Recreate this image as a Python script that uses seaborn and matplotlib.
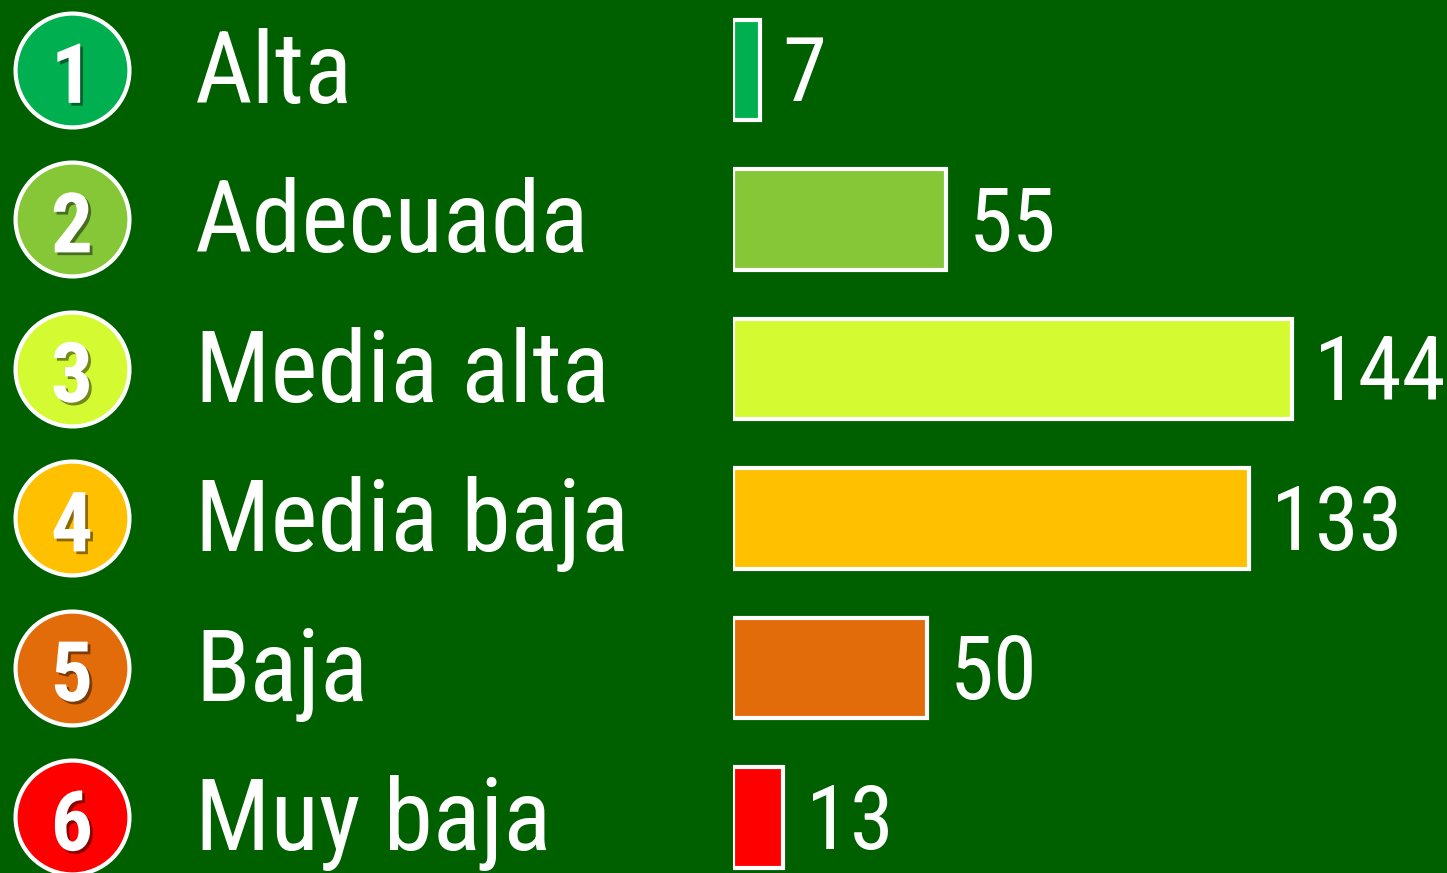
import matplotlib
matplotlib.use("Agg")
import matplotlib.pyplot as plt
import matplotlib.patheffects as pe
import matplotlib.transforms as mtransforms
from matplotlib import font_manager
import seaborn as sns

# Data
ranks = ["1", "2", "3", "4", "5", "6"]
levels = ["Alta", "Adecuada", "Media alta", "Media baja", "Baja", "Muy baja"]
counts = [7, 55, 144, 133, 50, 13]
colors = ["#00B050", "#85C737", "#D4FA32", "#FFC000", "#E36C0A", "#FF0000"]
bg = "#006000"

sns.set_theme(style="white")
# a narrow sans to mimic Arial Narrow
names = {f.name for f in font_manager.fontManager.ttflist}
font = "Liberation Sans"
for cand in ["Liberation Sans Narrow", "Roboto Condensed", "Archivo Narrow", "PT Sans Narrow"]:
    if cand in names:
        font = cand
        break
plt.rcParams["font.family"] = [font, "DejaVu Sans"]

fig = plt.figure(figsize=(14.47, 8.73), dpi=100, facecolor=bg)
ax = fig.add_axes([733 / 1447, -0.02205, 714 / 1447, 1.0275])
ax.set_facecolor(bg)

sns.barplot(x=counts, y=levels, hue=levels, palette=colors, legend=False, saturation=1,
            orient="h", width=0.67, edgecolor="white", linewidth=3, ax=ax)
ax.set_xlim(0, 184)
ax.set_ylim(5.5, -0.5)
ax.axis("off")

# value labels
for i, v in enumerate(counts):
    ax.annotate(str(v), (v, i + 0.21), xytext=(16, 0), textcoords="offset points",
                color="white", fontsize=64, ha="left", va="baseline")

# circles, numbers and level names on the left
tr = mtransforms.blended_transform_factory(fig.transFigure, ax.transData)
for i, (r, lvl, c) in enumerate(zip(ranks, levels, colors)):
    ax.plot([72 / 1447], [i], transform=tr, marker="o", markersize=82,
            markerfacecolor=c, markeredgecolor="white", markeredgewidth=3,
            clip_on=False)
    ax.text(72 / 1447, i + 0.22, r, transform=tr, color="white", fontsize=60,
            fontweight="bold", ha="center", va="baseline", clip_on=False,
            path_effects=[pe.withSimplePatchShadow(offset=(2, -2),
                                                   shadow_rgbFace="black", alpha=0.45)])
    ax.text(195 / 1447, i + 0.22, lvl, transform=tr, color="white", fontsize=72,
            ha="left", va="baseline", clip_on=False)

fig.savefig("out.png", dpi=100, facecolor=bg)
